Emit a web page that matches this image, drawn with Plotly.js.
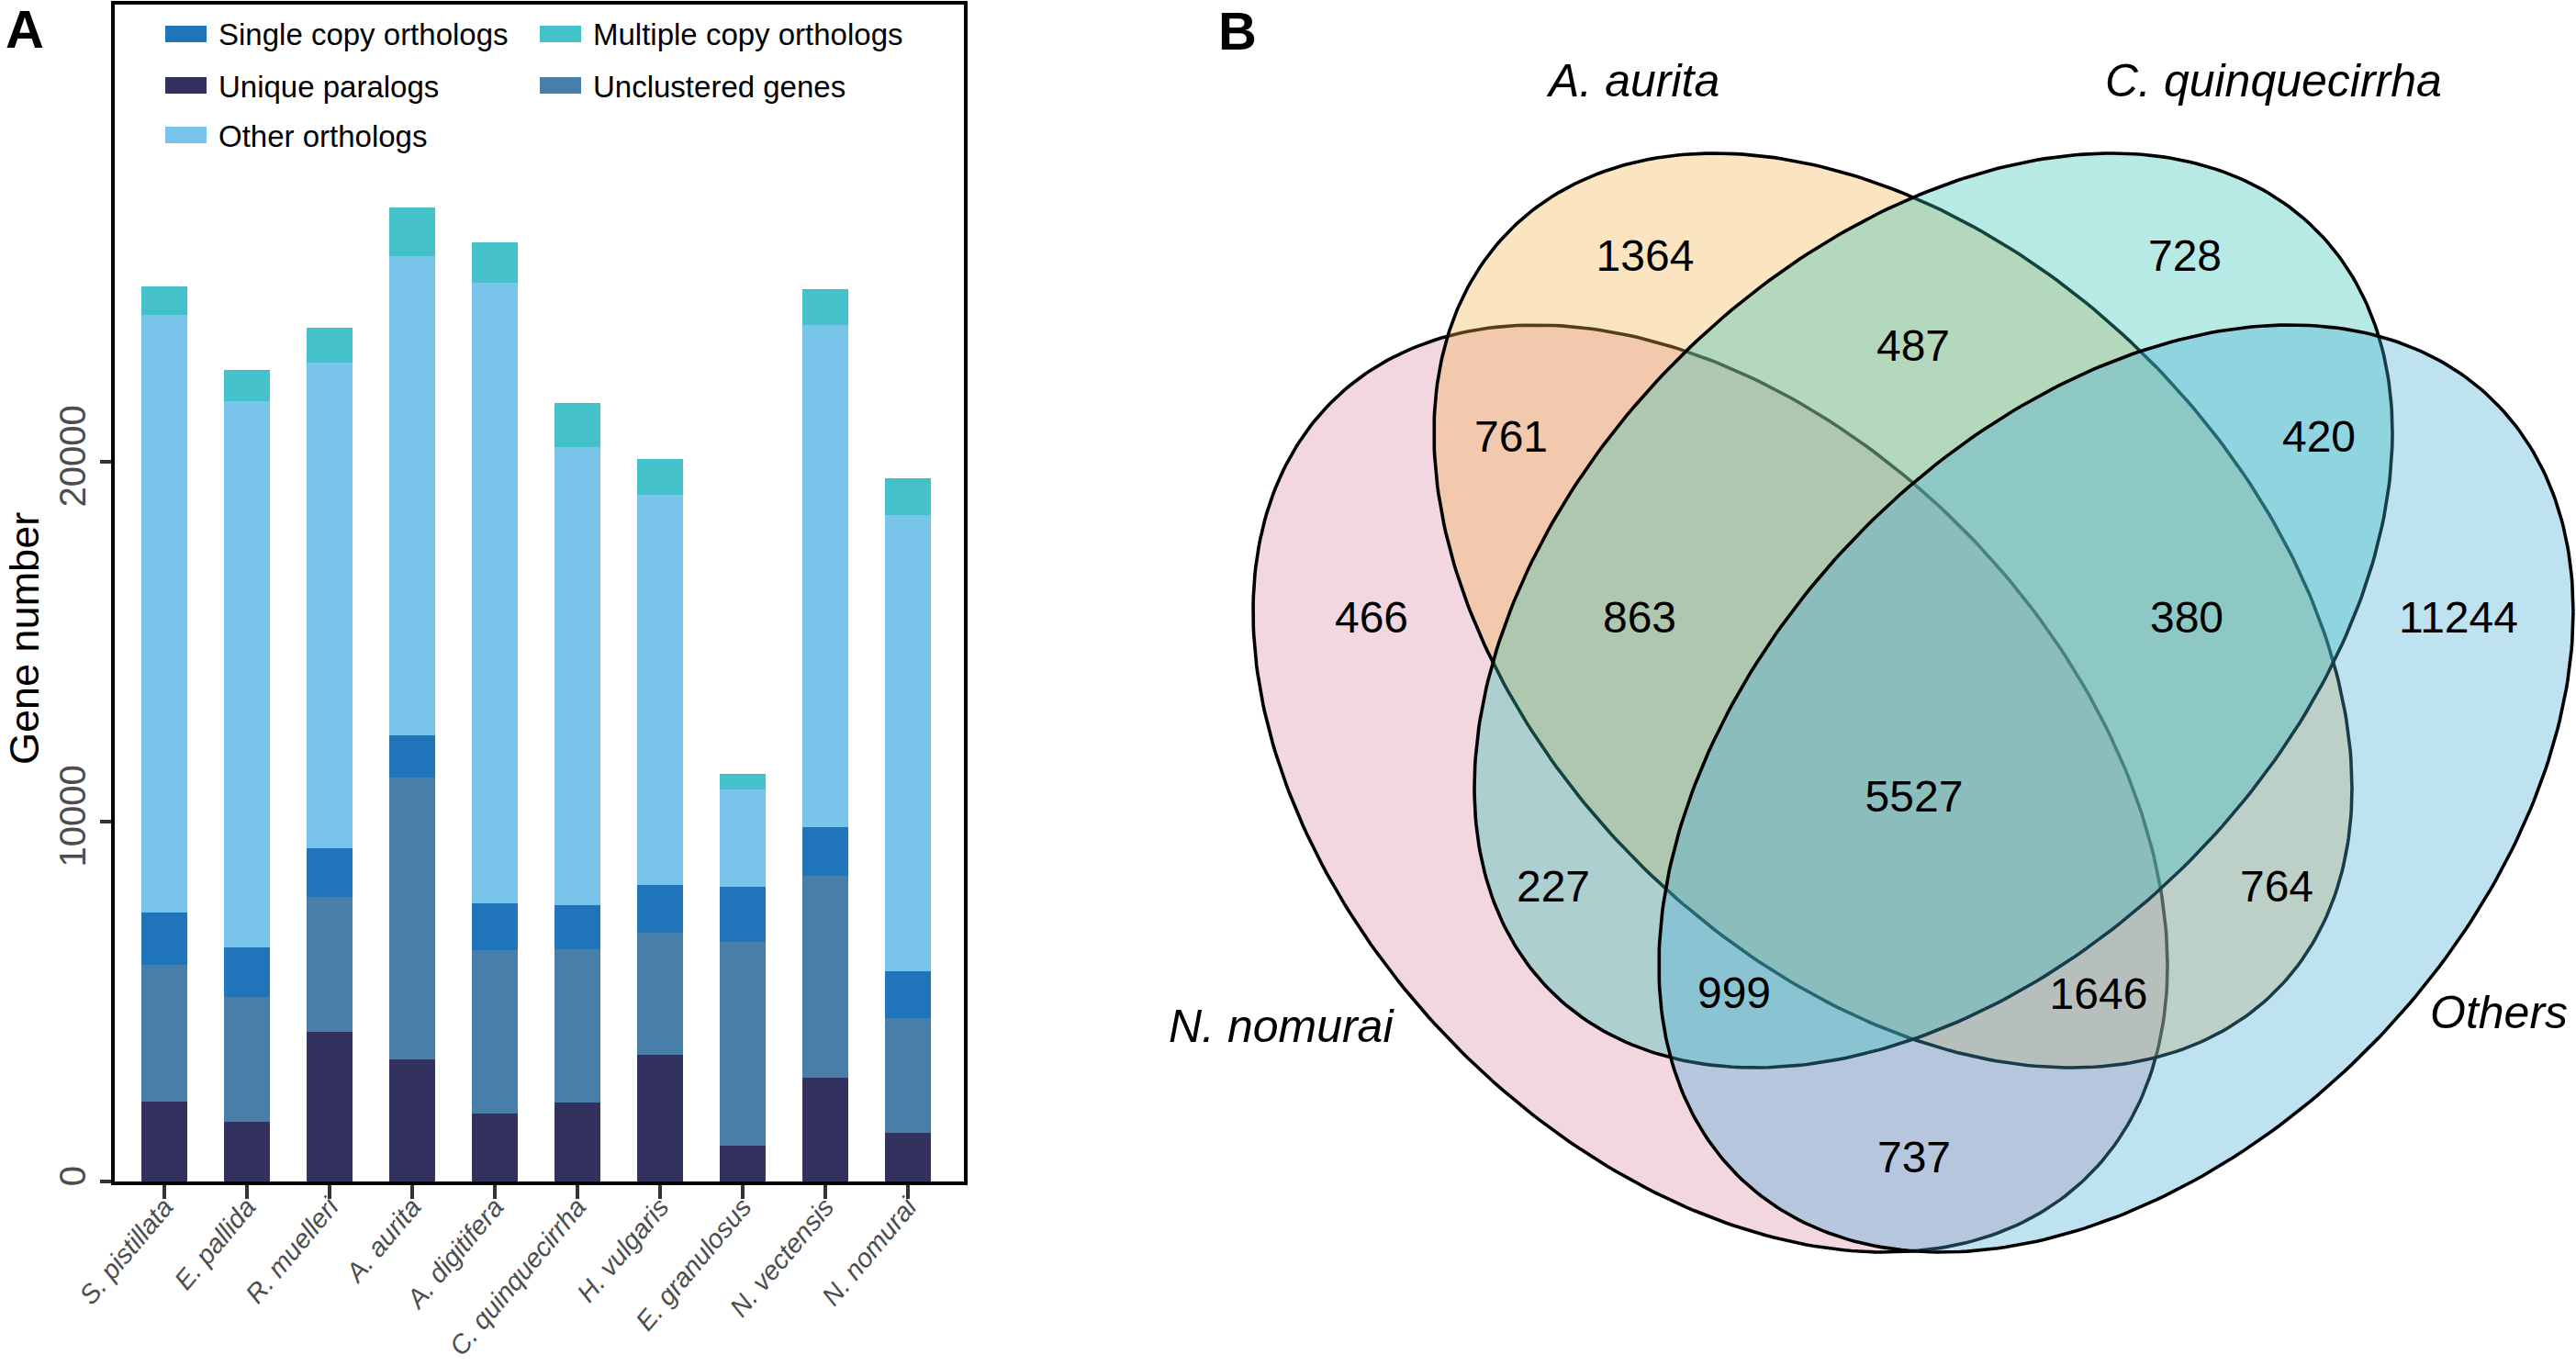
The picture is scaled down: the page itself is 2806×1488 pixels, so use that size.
<!DOCTYPE html>
<html>
<head>
<meta charset="utf-8">
<script src="https://cdn.plot.ly/plotly-3.0.1.min.js"></script>
<style>
html,body{margin:0;padding:0;background:#ffffff;}
#chart{width:2806px;height:1488px;}
</style>
</head>
<body>
<div id="chart"></div>
<script>
// ---------------- DATA ----------------
const species = ['S. pistillata','E. pallida','R. muelleri','A. aurita','A. digitifera',
                 'C. quinquecirrha','H. vulgaris','E. granulosus','N. vectensis','N. nomurai'];
const uniqueParalogs   = [2210, 1650, 4150, 3380, 1880, 2190, 3510,  990, 2870, 1350];
const unclusteredGenes = [3810, 3480, 3770, 7850, 4560, 4270, 3410, 5670, 5630, 3200];
const singleCopy       = [1450, 1370, 1330, 1170, 1290, 1220, 1330, 1520, 1340, 1300];
const otherOrthologs   = [16620,15180,13490,13320,17250,12730,10830, 2710,13970,12680];
const multipleCopy     = [ 790,  860,  970, 1350, 1120, 1220, 1000,  430,  990, 1010];
const yTickValues = [0, 10000, 20000];

const seriesNames  = ['Unique paralogs','Unclustered genes','Single copy orthologs','Other orthologs','Multiple copy orthologs'];
const seriesValues = [uniqueParalogs, unclusteredGenes, singleCopy, otherOrthologs, multipleCopy];
const legendOrder  = ['Single copy orthologs','Multiple copy orthologs','Unique paralogs','Unclustered genes','Other orthologs'];

const vennSets   = ['N. nomurai','A. aurita','C. quinquecirrha','Others'];
const vennRegions = ['N','A','C','O','NA','AC','CO','NAC','ACO','NACO','NC','AO','NCO','NAO','NO'];
const vennCounts  = [466, 1364, 728, 11244, 761, 487, 420, 863, 380, 5527, 227, 764, 999, 1646, 737];

// ---------------- STYLE / LAYOUT ----------------
const W = 2806, H = 1488;
const FONT = '"Liberation Sans", Arial, Helvetica, sans-serif';
const fx = p => p / W;
const fy = p => 1 - p / H;

const seriesColors = {
  'Unique paralogs':'#33325F',
  'Unclustered genes':'#487EAA',
  'Single copy orthologs':'#1F74BA',
  'Other orthologs':'#79C4EB',
  'Multiple copy orthologs':'#45C2C9'
};

const traces = [];
seriesNames.forEach((n, i) => {
  traces.push({
    type:'bar', name:n, x:species, y:seriesValues[i],
    width:0.55, marker:{color:seriesColors[n], line:{width:0}},
    xaxis:'x', yaxis:'y', showlegend:false, hoverinfo:'skip'
  });
});

// Venn geometry (pixel space of the right panel)
const vennGeom = {
  'N. nomurai':       {cx:1863, cy:859, X:498, Y:505, d:-190, fill:'rgba(218,138,166,0.35)'},
  'A. aurita':        {cx:2062, cy:665, X:500, Y:498, d:-194, fill:'rgba(244,178,75,0.35)'},
  'C. quinquecirrha': {cx:2106, cy:665, X:500, Y:498, d: 194, fill:'rgba(49,195,178,0.35)'},
  'Others':           {cx:2305, cy:859, X:498, Y:505, d: 190, fill:'rgba(72,172,215,0.35)'}
};
vennSets.forEach(s => {
  const g = vennGeom[s];
  const a = Math.acos(g.d / g.X);
  const xs = [], ys = [];
  const N = 360;
  for (let k = 0; k <= N; k++) {
    const t = 2 * Math.PI * k / N;
    xs.push(g.cx + g.X * Math.cos(t));
    ys.push(g.cy - g.Y * Math.cos(t - a));
  }
  traces.push({
    type:'scatter', mode:'lines', x:xs, y:ys, fill:'toself', fillcolor:g.fill,
    line:{color:'#000000', width:3.6}, xaxis:'x2', yaxis:'y2',
    showlegend:false, hoverinfo:'skip', name:s
  });
});

const vennLabelPos = {
  'N':[1494,677], 'A':[1792,283], 'C':[2380,283], 'O':[2678,677],
  'NA':[1646,480], 'AC':[2084,381], 'CO':[2526,480],
  'NAC':[1786,677], 'ACO':[2382,677], 'NACO':[2085,872],
  'NC':[1692,970], 'AO':[2480,970], 'NCO':[1889,1086], 'NAO':[2286,1087], 'NO':[2085,1265]
};
traces.push({
  type:'scatter', mode:'text', xaxis:'x2', yaxis:'y2',
  x: vennRegions.map(r => vennLabelPos[r][0]),
  y: vennRegions.map(r => vennLabelPos[r][1]),
  text: vennCounts.map(String),
  textposition:'middle center',
  textfont:{family:FONT, size:48, color:'#000000'},
  showlegend:false, hoverinfo:'skip'
});

const setLabelPos = {
  'N. nomurai':[1396,1118], 'A. aurita':[1778,88], 'C. quinquecirrha':[2476,88], 'Others':[2722,1103]
};

const annotations = [];
const shapes = [];

// Venn set labels
vennSets.forEach(s => {
  annotations.push({
    xref:'x2', yref:'y2', x:setLabelPos[s][0], y:setLabelPos[s][1],
    text:s, showarrow:false, xanchor:'center', yanchor:'middle',
    font:{family:FONT, size:50, color:'#000000', style:'italic'}
  });
});

// Panel letters
annotations.push({xref:'paper', yref:'paper', x:fx(27), y:fy(32), text:'<b>A</b>', showarrow:false,
  xanchor:'center', yanchor:'middle', font:{family:FONT, size:58, color:'#000000'}});
annotations.push({xref:'paper', yref:'paper', x:fx(1348), y:fy(34), text:'<b>B</b>', showarrow:false,
  xanchor:'center', yanchor:'middle', font:{family:FONT, size:58, color:'#000000'}});

// Y axis title
annotations.push({xref:'paper', yref:'paper', x:fx(26), y:fy(696), text:'Gene number', showarrow:false,
  textangle:-90, xanchor:'center', yanchor:'middle', font:{family:FONT, size:45, color:'#000000'}});

// Manual legend (2 columns)
const legColX = [180, 588];
const legRowY = [37, 93, 147];
legendOrder.forEach((n, i) => {
  const col = i % 2, row = Math.floor(i / 2);
  const x0 = legColX[col], yc = legRowY[row];
  shapes.push({type:'rect', xref:'paper', yref:'paper',
    x0:fx(x0), x1:fx(x0 + 45), y0:fy(yc - 9), y1:fy(yc + 9),
    fillcolor:seriesColors[n], line:{width:0}});
  annotations.push({xref:'paper', yref:'paper', x:fx(x0 + 56), y:fy(yc + 1), text:n, showarrow:false,
    xanchor:'left', yanchor:'middle', font:{family:FONT, size:33, color:'#000000'}});
});

const layout = {
  width:W, height:H,
  margin:{l:0, r:0, t:0, b:0},
  paper_bgcolor:'#ffffff', plot_bgcolor:'#ffffff',
  barmode:'stack',
  showlegend:false,
  font:{family:FONT},
  xaxis:{
    domain:[fx(125), fx(1050)], range:[-0.6, 9.68], type:'category',
    showline:true, linecolor:'#000000', linewidth:4, mirror:true,
    ticks:'outside', ticklen:15, tickwidth:3.5, tickcolor:'#333333',
    tickangle:-50, ticklabelstandoff:-20,
    tickfont:{family:FONT, size:29, color:'#4D4D4D', style:'italic'},
    showgrid:false, zeroline:false, fixedrange:true, anchor:'y'
  },
  yaxis:{
    domain:[fy(1287), fy(5)], range:[0, 32700],
    tickvals:yTickValues, ticktext:yTickValues.map(String),
    showline:true, linecolor:'#000000', linewidth:4, mirror:true,
    ticks:'outside', ticklen:12, tickwidth:3.5, tickcolor:'#333333',
    tickangle:-90, tickfont:{family:FONT, size:40, color:'#4D4D4D'},
    showgrid:false, zeroline:false, fixedrange:true, anchor:'x'
  },
  xaxis2:{domain:[fx(1300), 1], range:[1300, 2806], visible:false, anchor:'y2', fixedrange:true},
  yaxis2:{domain:[0, 1], range:[1488, 0], visible:false, anchor:'x2', fixedrange:true},
  annotations:annotations,
  shapes:shapes
};

Plotly.newPlot('chart', traces, layout, {displayModeBar:false, staticPlot:true});
</script>
</body>
</html>
